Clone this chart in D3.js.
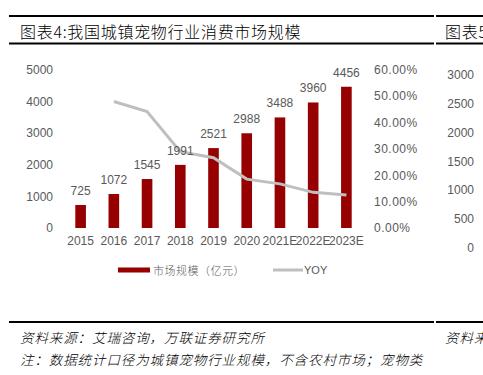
<!DOCTYPE html>
<html>
<head>
<meta charset="utf-8">
<script src="https://cdn.jsdelivr.net/npm/d3@7"></script>
<style>
  body { margin: 0; background: #fff; }
  svg { display: block; }
</style>
</head>
<body>
<div id="chart"></div>
<script>
// data
const years = ["2015", "2016", "2017", "2018", "2019", "2020", "2021E", "2022E", "2023E"]
const marketSize = [725, 1072, 1545, 1991, 2521, 2988, 3488, 3960, 4456]
const yoy = [null, 47.9, 44.1, 28.9, 26.6, 18.5, 16.7, 13.5, 12.5]
const leftTicks = [0, 1000, 2000, 3000, 4000, 5000]
const rightTicks = [0, 10, 20, 30, 40, 50, 60]
// the next panel's axis, cut off at the right edge
const nextTicks = [0, 500, 1000, 1500, 2000, 2500, 3000]

const width = 483
const height = 375
const gray = "#595959"
const barColor = "#960000"
const lineColor = "#bfbfbf"
const numFont = "'Liberation Sans', Arial, sans-serif"
const cjkFont = "'Noto Sans CJK SC', sans-serif"

const svg = d3.select("#chart")
  .append("svg")
  .attr("width", width)
  .attr("height", height)

const xScale = d3.scaleBand()
  .domain(years)
  .range([64, 363])
  .paddingInner(0.68)
  .paddingOuter(0.34)

const yScale = d3.scaleLinear()
  .domain([0, 5000])
  .range([228, 69.5])

const yRight = d3.scaleLinear()
  .domain([0, 60])
  .range([228, 69.5])

const yNext = d3.scaleLinear()
  .domain([0, 3000])
  .range([247.5, 75])

// header / footer rules
function rule(y, x1, x2) {
  svg.append("line")
    .attr("x1", x1).attr("x2", x2)
    .attr("y1", y).attr("y2", y)
    .attr("stroke", "#000")
    .attr("stroke-width", 2)
}
rule(16, 9, 434)
rule(16, 436, 483)
rule(43.5, 9, 434)
rule(43.5, 436, 483)
rule(322, 9, 434)
rule(322, 436, 483)

function title(x, txt) {
  svg.append("text")
    .attr("x", x)
    .attr("y", 31)
    .attr("dominant-baseline", "central")
    .attr("font-family", cjkFont)
    .attr("font-size", 16)
    .attr("font-weight", 300)
    .attr("letter-spacing", 0.7)
    .text(txt)
}
title(20, "图表4:我国城镇宠物行业消费市场规模")
title(445, "图表5")

// axes
const leftAxis = d3.axisLeft(yScale).tickValues(leftTicks).tickSize(0).tickPadding(0)
  .tickFormat(d3.format("d"))
svg.append("g")
  .attr("class", "y-axis")
  .attr("transform", "translate(53 0)")
  .call(leftAxis)

const rightAxis = d3.axisRight(yRight).tickValues(rightTicks).tickSize(0).tickPadding(0)
  .tickFormat(d => d3.format(".2f")(d) + "%")
svg.append("g")
  .attr("class", "y-right")
  .attr("transform", "translate(374 0)")
  .call(rightAxis)

const nextAxis = d3.axisLeft(yNext).tickValues(nextTicks).tickSize(0).tickPadding(0)
  .tickFormat(d3.format("d"))
svg.append("g")
  .attr("class", "y-next")
  .attr("transform", "translate(474 0)")
  .call(nextAxis)

const xAxis = d3.axisBottom(xScale).tickSize(0).tickPadding(0)
svg.append("g")
  .attr("class", "x-axis")
  .attr("transform", "translate(0 236)")
  .call(xAxis)

svg.selectAll(".domain").remove()
svg.selectAll(".tick text")
  .attr("fill", gray)
  .attr("font-family", numFont)
  .attr("font-size", 12)
svg.selectAll(".x-axis .tick text").attr("dy", "0.75em")
svg.selectAll(".y-right .tick text").attr("letter-spacing", 0.5)

// bars
svg.append("g")
  .selectAll("rect")
  .data(marketSize)
  .join("rect")
  .attr("x", (d, i) => xScale(years[i]))
  .attr("y", d => yScale(d))
  .attr("width", xScale.bandwidth())
  .attr("height", d => yScale(0) - yScale(d))
  .attr("fill", barColor)

// yoy line
const line = d3.line()
  .defined(d => d[1] !== null)
  .x(d => xScale(d[0]) + xScale.bandwidth() / 2)
  .y(d => yRight(d[1]))

svg.append("path")
  .datum(years.map((y, i) => [y, yoy[i]]))
  .attr("d", line)
  .attr("fill", "none")
  .attr("stroke", lineColor)
  .attr("stroke-width", 3)

// bar labels, drawn over the line
svg.append("g")
  .selectAll("text")
  .data(marketSize)
  .join("text")
  .attr("x", (d, i) => xScale(years[i]) + xScale.bandwidth() / 2)
  .attr("y", d => yScale(d) - 10)
  .attr("text-anchor", "middle")
  .attr("fill", gray)
  .attr("font-family", numFont)
  .attr("font-size", 12)
  .text(d => d)

// legend
svg.append("rect")
  .attr("x", 118).attr("y", 267.5)
  .attr("width", 32).attr("height", 5)
  .attr("fill", barColor)
svg.append("text")
  .attr("x", 153).attr("y", 270)
  .attr("dominant-baseline", "central")
  .attr("fill", gray)
  .attr("font-family", cjkFont)
  .attr("font-size", 11)
  .attr("font-weight", 300)
  .attr("letter-spacing", 0.5)
  .text("市场规模（亿元）")
svg.append("line")
  .attr("x1", 273).attr("x2", 303)
  .attr("y1", 270).attr("y2", 270)
  .attr("stroke", lineColor)
  .attr("stroke-width", 3)
svg.append("text")
  .attr("x", 304).attr("y", 270)
  .attr("dominant-baseline", "central")
  .attr("fill", gray)
  .attr("font-family", numFont)
  .attr("font-size", 11)
  .text("YOY")

// footer
function note(x, y, txt) {
  svg.append("text")
    .attr("x", x).attr("y", y)
    .attr("dominant-baseline", "central")
    .attr("font-family", cjkFont)
    .attr("font-size", 13.5)
    .attr("font-weight", 300)
    .attr("font-style", "italic")
    .attr("letter-spacing", 0.9)
    .text(txt)
}
note(20, 337, "资料来源：艾瑞咨询，万联证券研究所")
note(20, 359, "注：数据统计口径为城镇宠物行业规模，不含农村市场；宠物类")
note(445, 337, "资料来源")
</script>
</body>
</html>
